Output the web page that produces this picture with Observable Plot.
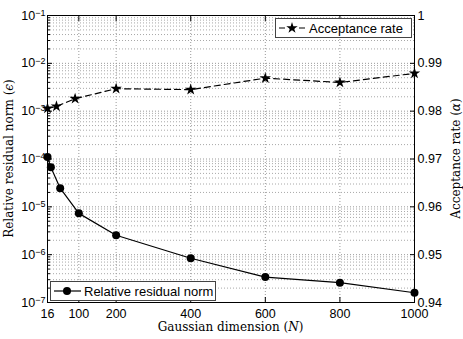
<!DOCTYPE html>
<html><head><meta charset="utf-8">
<script src="https://cdn.jsdelivr.net/npm/d3@7"></script>
<script src="https://cdn.jsdelivr.net/npm/@observablehq/plot@0.6"></script>
<style>
body{margin:0;background:#fff;}
#wrap{position:relative;width:463px;height:339px;background:#fff;}
#wrap svg{position:absolute;left:0;top:0;}
</style></head><body><div id="wrap"></div>
<script>
// ---- data ----
const dimResidual = [16, 25, 50, 100, 200, 400, 600, 800, 1000];
const residualNorm = [1.1e-4, 6.7e-5, 2.45e-5, 7.3e-6, 2.55e-6, 8.4e-7, 3.4e-7, 2.6e-7, 1.6e-7];
const dimAcceptance = [16, 40, 90, 200, 400, 600, 800, 1000];
const acceptanceRate = [0.9806, 0.9810, 0.9826, 0.9847, 0.9845, 0.9869, 0.9860, 0.9879];
const xTicks = [16, 100, 200, 400, 600, 800, 1000];
const leftTicks = [1e-7, 1e-6, 1e-5, 1e-4, 1e-3, 1e-2, 1e-1];
const rightTicks = [0.94, 0.95, 0.96, 0.97, 0.98, 0.99, 1];
const labelX = "Gaussian dimension";
const labelLeft = "Relative residual norm";
const labelRight = "Acceptance rate";
const legendResidual = "Relative residual norm";
const legendAcceptance = "Acceptance rate";

const leftMinor = [];
for (let e = -7; e < -1; e++) for (let k = 2; k <= 9; k++) leftMinor.push(k * Math.pow(10, e));

const resData = dimResidual.map((n, i) => ({n, v: residualNorm[i]}));
const accData = dimAcceptance.map((n, i) => ({n, v: acceptanceRate[i]}));

const common = {
  width: 463, height: 339,
  marginTop: 15, marginRight: 49, marginBottom: 37, marginLeft: 47,
  style: {background: "transparent", fontFamily: "'Liberation Sans', Arial, sans-serif", fontSize: "12.5px", color: "#000", overflow: "visible"}
};
const gridStyle = {stroke: "#a8a8a8", strokeOpacity: 1, strokeWidth: 1, strokeDasharray: "1,2"};

const p1 = Plot.plot({
  ...common,
  x: {domain: [16, 1000]},
  y: {type: "log", domain: [1e-7, 1e-1]},
  marks: [
    Plot.gridY(leftMinor, gridStyle),
    Plot.gridY(leftTicks, {...gridStyle, stroke: "#999"}),
    Plot.gridX(xTicks, {...gridStyle, stroke: "#999"}),
    Plot.axisX(xTicks, {anchor: "bottom", tickSize: 0, tickPadding: 7, tickFormat: d => String(d), label: null}),
    Plot.axisX(xTicks, {anchor: "bottom", text: null, tickSize: -5, label: null}),
    Plot.axisX(xTicks, {anchor: "top", text: null, tickSize: -5, label: null}),
    Plot.axisY(leftTicks, {anchor: "left", tickSize: 0, tickPadding: 2, tickFormat: d => "10^" + Math.round(Math.log10(d)), label: null}),
    Plot.axisY(leftTicks, {anchor: "left", text: null, tickSize: -5, label: null}),
    Plot.axisY(leftMinor, {anchor: "left", text: null, tickSize: -3, label: null}),
    Plot.line(resData, {x: "n", y: "v", stroke: "#000", strokeWidth: 1.2}),
    Plot.dot(resData, {x: "n", y: "v", r: 4, fill: "#000", stroke: "none"})
  ]
});

const p2 = Plot.plot({
  ...common,
  x: {domain: [16, 1000], axis: null},
  y: {domain: [0.94, 1]},
  marks: [
    Plot.axisY(rightTicks, {anchor: "right", tickSize: 0, tickPadding: 3, tickFormat: d => d === 1 ? "1" : d.toFixed(2), label: null}),
    Plot.axisY(rightTicks, {anchor: "right", text: null, tickSize: -5, label: null}),
    Plot.frame({stroke: "#000", strokeWidth: 1}),
    Plot.line(accData, {x: "n", y: "v", stroke: "#000", strokeWidth: 1.2, strokeDasharray: "6,4"}),
    Plot.dot(accData, {x: "n", y: "v", symbol: "star", r: 3.6, fill: "#000", stroke: "none"})
  ]
});

const wrap = document.getElementById("wrap");
wrap.appendChild(p1);
wrap.appendChild(p2);

// superscripts on the log axis
d3.select(p1).selectAll('g[aria-label="y-axis tick label"] text').each(function () {
  const t = d3.select(this);
  const s = t.text() || "";
  if (s.indexOf("^") < 0) return;
  const e = s.split("^")[1].replace("-", "\u2212");
  t.text(null);
  t.append("tspan").text("10");
  t.append("tspan").attr("dy", "-0.42em").attr("font-size", "9px").text(e);
});

// axis titles (serif)
const s1 = d3.select(p1);
const serif = "'DejaVu Serif', serif";
const tx = s1.append("text").attr("x", 230.5).attr("y", 331).attr("text-anchor", "middle")
  .attr("font-family", serif).attr("font-size", "12px").attr("fill", "#000");
tx.append("tspan").text(labelX + " (");
tx.append("tspan").attr("font-style", "italic").text("N");
tx.append("tspan").text(")");

const tl = s1.append("text").attr("transform", "translate(13,158.5) rotate(-90)").attr("text-anchor", "middle")
  .attr("font-family", serif).attr("font-size", "12px").attr("fill", "#000");
tl.append("tspan").text(labelLeft + " (");
tl.append("tspan").attr("font-style", "italic").text("\u03F5");
tl.append("tspan").text(")");

const tr = s1.append("text").attr("transform", "translate(460,158.5) rotate(-90)").attr("text-anchor", "middle")
  .attr("font-family", serif).attr("font-size", "12px").attr("fill", "#000");
tr.append("tspan").text(labelRight + " (");
tr.append("tspan").attr("font-style", "italic").text("\u03B1");
tr.append("tspan").text(")");

// legends
const s2 = d3.select(p2);
const font = "'Liberation Sans', Arial, sans-serif";
function legend(x, y, w, h, text, dashed, symbol) {
  const g = s2.append("g");
  g.append("rect").attr("x", x + 0.5).attr("y", y + 0.5).attr("width", w).attr("height", h)
    .attr("fill", "#fff").attr("stroke", "#444").attr("stroke-width", 1);
  const cy = y + h / 2 + 0.5;
  g.append("path").attr("d", `M${x + 4},${cy}H${x + 31}`)
    .attr("fill", "none").attr("stroke", "#000").attr("stroke-width", 1.2)
    .attr("stroke-dasharray", dashed ? "6,4" : "none");
  g.append("path").attr("transform", `translate(${x + 17},${cy})`)
    .attr("d", d3.symbol(symbol, symbol === d3.symbolStar ? 3.6 * 3.6 * Math.PI : 16 * Math.PI)())
    .attr("fill", "#000").attr("stroke", "none");
  g.append("text").attr("x", x + 34).attr("y", cy).attr("dy", "0.36em")
    .attr("text-anchor", "start")
    .attr("font-family", font).attr("font-size", "13px").attr("fill", "#000").text(text);
}
legend(275, 18, 136, 19, legendAcceptance, true, d3.symbolStar);
legend(50, 281, 165, 19, legendResidual, false, d3.symbolCircle);
</script>
</body></html>
